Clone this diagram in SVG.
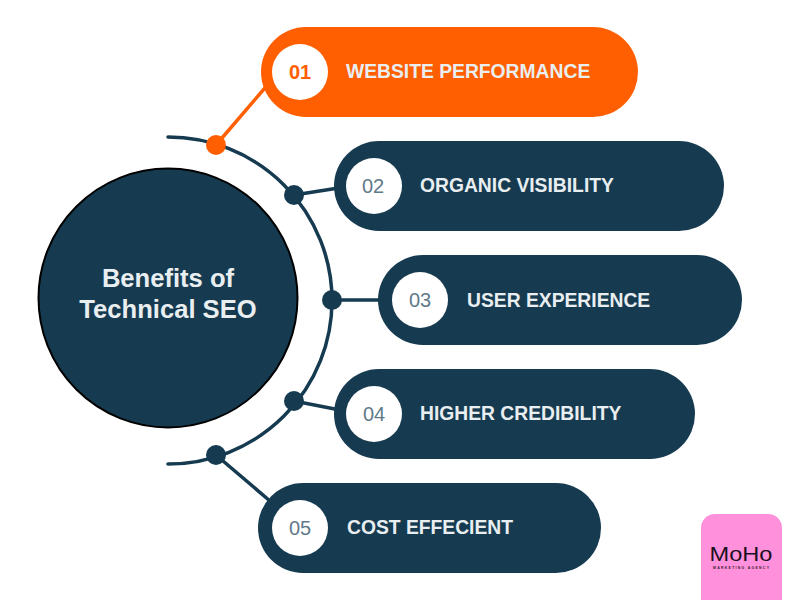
<svg xmlns="http://www.w3.org/2000/svg" width="800" height="600" viewBox="0 0 800 600">
<style>
.pill{fill:#163b50}
.org{fill:#ff5f00}
.num{fill:#fff}
.n{font:500 20px "Liberation Sans",Arial,sans-serif;text-anchor:middle;fill:#5f7a8a}
.l{font:bold 19.3px "Liberation Sans",Arial,sans-serif;fill:#e9eef1}
.t{font:bold 25.6px "Liberation Sans",Arial,sans-serif;text-anchor:middle;fill:#e9eef1}
.d{fill:#163b50}
.c{fill:none;stroke:#163b50;stroke-width:3.5;stroke-linecap:round}
</style>
<rect width="800" height="600" fill="#fff"/>
<g id="connectors">
<path class="c" d="M168 137A164 163.5 0 0 1 168 464"/>
<path class="c" d="M294 195L345 187M332 300H390M294 401L345 411M216 455L270 501"/>
<path d="M216 145L270 82" fill="none" stroke="#ff5f00" stroke-width="3.5"/>
<circle class="org" cx="216" cy="145" r="10"/>
<circle class="d" cx="294" cy="195" r="10"/>
<circle class="d" cx="332" cy="300" r="10"/>
<circle class="d" cx="294" cy="401" r="10"/>
<circle class="d" cx="216" cy="455" r="10"/>
</g>
<g id="center">
<circle cx="168" cy="298" r="129.500" fill="#163b50" stroke="#000" stroke-width="2"/>
<text class="t" x="168" y="287">Benefits of</text>
<text class="t" x="168" y="318">Technical SEO</text>
</g>
<g id="node1">
<rect class="org" x="261" y="27" width="377" height="90" rx="45"/>
<circle class="num" cx="300" cy="72" r="28"/>
<text class="n" x="300" y="79" style="fill:#ff5f00;font-weight:bold">01</text>
<text class="l" x="346" y="78">WEBSITE PERFORMANCE</text>
</g>
<g id="node2">
<rect class="pill" x="334" y="141" width="390" height="90" rx="45"/>
<circle class="num" cx="374" cy="186" r="28"/>
<text class="n" x="373" y="193">02</text>
<text class="l" x="420" y="191.500">ORGANIC VISIBILITY</text>
</g>
<g id="node3">
<rect class="pill" x="378" y="255" width="364" height="90" rx="45"/>
<circle class="num" cx="420" cy="300" r="28"/>
<text class="n" x="420" y="307">03</text>
<text class="l" x="467" y="307">USER EXPERIENCE</text>
</g>
<g id="node4">
<rect class="pill" x="334" y="369" width="361" height="90" rx="45"/>
<circle class="num" cx="374" cy="414" r="28"/>
<text class="n" x="374" y="421">04</text>
<text class="l" x="420" y="420">HIGHER CREDIBILITY</text>
</g>
<g id="node5">
<rect class="pill" x="258" y="483" width="343" height="90" rx="45"/>
<circle class="num" cx="300" cy="528" r="28"/>
<text class="n" x="300" y="535">05</text>
<text class="l" x="347" y="534">COST EFFECIENT</text>
</g>
<g id="logo">
<rect x="701" y="514" width="81" height="100" rx="14" fill="#ff90dc"/>
<text x="741" y="561" text-anchor="middle" font-family="'Liberation Sans',Arial,sans-serif" font-size="20" textLength="63" lengthAdjust="spacingAndGlyphs" fill="#1c1020">MoHo</text>
<text x="741" y="569" text-anchor="middle" font-family="'Liberation Sans',Arial,sans-serif" font-size="3.500" font-weight="bold" textLength="56" fill="#3a2030">MARKETING AGENCY</text>
</g>
</svg>
